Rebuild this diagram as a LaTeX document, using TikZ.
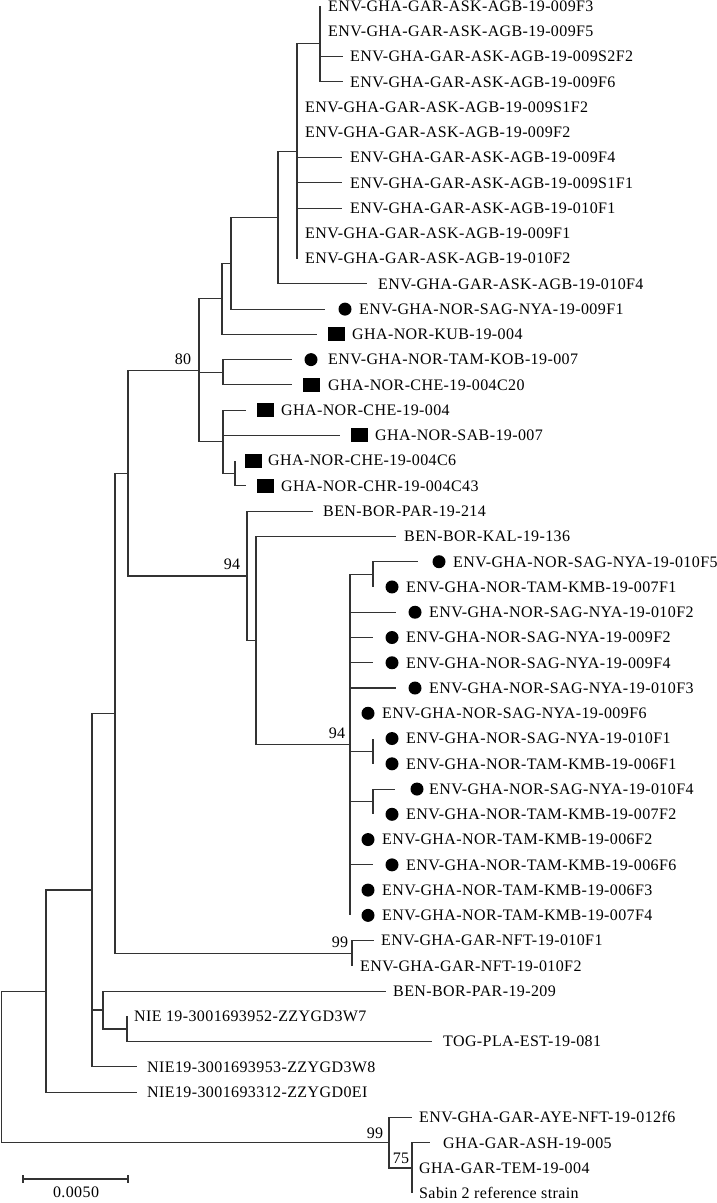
\documentclass[tikz,border=0pt]{standalone}
\usepackage{fontspec}
\setmainfont{Liberation Serif}
\newfontfamily\taxfont[LetterSpace=2.5]{Liberation Serif}
% row of a taxon -> y in px
\newcommand{\rowy}[1]{{6+25.26*(#1-1)}}
% name, row, tip x, label x, text
\newcommand{\taxon}[5]{%
  \coordinate (#1) at (#3,\rowy{#2});
  \node[taxlab] (#1l) at (#4,\rowy{#2}) {#5};}
% name, row, x of the marker
\newcommand{\envdot}[3]{\node[envmark] (#1) at (#3,\rowy{#2}) {};}
\newcommand{\humbox}[3]{\node[hummark] (#1) at (#3,\rowy{#2}) {};}
\begin{document}
\begin{tikzpicture}[x=1pt,y=-1pt,
  twig/.style={line width=1.1pt,black!80},
  taxlab/.style={anchor=west,inner sep=0pt,text height=10.6pt,text depth=0pt,font=\taxfont\fontsize{16}{18}\selectfont},
  boot/.style={inner sep=0pt,font=\taxfont\fontsize{16}{18}\selectfont},
  envmark/.style={circle,fill=black,minimum size=13pt,inner sep=0pt},
  hummark/.style={rectangle,fill=black,minimum width=17pt,minimum height=14pt,inner sep=0pt}]
\useasboundingbox (0,0) rectangle (716,1203);

% taxa
\taxon{r1}{1}{320}{328}{ENV-GHA-GAR-ASK-AGB-19-009F3}
\taxon{r2}{2}{320}{328}{ENV-GHA-GAR-ASK-AGB-19-009F5}
\taxon{r3}{3}{343}{350}{ENV-GHA-GAR-ASK-AGB-19-009S2F2}
\taxon{r4}{4}{343}{350}{ENV-GHA-GAR-ASK-AGB-19-009F6}
\taxon{r5}{5}{297}{305}{ENV-GHA-GAR-ASK-AGB-19-009S1F2}
\taxon{r6}{6}{297}{305}{ENV-GHA-GAR-ASK-AGB-19-009F2}
\taxon{r7}{7}{342}{350}{ENV-GHA-GAR-ASK-AGB-19-009F4}
\taxon{r8}{8}{342}{350}{ENV-GHA-GAR-ASK-AGB-19-009S1F1}
\taxon{r9}{9}{342}{350}{ENV-GHA-GAR-ASK-AGB-19-010F1}
\taxon{r10}{10}{297}{305}{ENV-GHA-GAR-ASK-AGB-19-009F1}
\taxon{r11}{11}{297}{305}{ENV-GHA-GAR-ASK-AGB-19-010F2}
\taxon{r12}{12}{367}{378}{ENV-GHA-GAR-ASK-AGB-19-010F4}
\taxon{r13}{13}{325}{359}{ENV-GHA-NOR-SAG-NYA-19-009F1}
\taxon{r14}{14}{317}{352}{GHA-NOR-KUB-19-004}
\taxon{r15}{15}{292}{328}{ENV-GHA-NOR-TAM-KOB-19-007}
\taxon{r16}{16}{292}{328}{GHA-NOR-CHE-19-004C20}
\taxon{r17}{17}{246}{281}{GHA-NOR-CHE-19-004}
\taxon{r18}{18}{340}{375}{GHA-NOR-SAB-19-007}
\taxon{r19}{19}{235}{268}{GHA-NOR-CHE-19-004C6}
\taxon{r20}{20}{246}{281}{GHA-NOR-CHR-19-004C43}
\taxon{r21}{21}{313}{323}{BEN-BOR-PAR-19-214}
\taxon{r22}{22}{396}{404}{BEN-BOR-KAL-19-136}
\taxon{r23}{23}{418}{453}{ENV-GHA-NOR-SAG-NYA-19-010F5}
\taxon{r24}{24}{373}{406}{ENV-GHA-NOR-TAM-KMB-19-007F1}
\taxon{r25}{25}{396}{429}{ENV-GHA-NOR-SAG-NYA-19-010F2}
\taxon{r26}{26}{373}{406}{ENV-GHA-NOR-SAG-NYA-19-009F2}
\taxon{r27}{27}{373}{406}{ENV-GHA-NOR-SAG-NYA-19-009F4}
\taxon{r28}{28}{396}{429}{ENV-GHA-NOR-SAG-NYA-19-010F3}
\taxon{r29}{29}{350}{382}{ENV-GHA-NOR-SAG-NYA-19-009F6}
\taxon{r30}{30}{373}{406}{ENV-GHA-NOR-SAG-NYA-19-010F1}
\taxon{r31}{31}{373}{406}{ENV-GHA-NOR-TAM-KMB-19-006F1}
\taxon{r32}{32}{395}{429}{ENV-GHA-NOR-SAG-NYA-19-010F4}
\taxon{r33}{33}{373}{406}{ENV-GHA-NOR-TAM-KMB-19-007F2}
\taxon{r34}{34}{350}{382}{ENV-GHA-NOR-TAM-KMB-19-006F2}
\taxon{r35}{35}{373}{406}{ENV-GHA-NOR-TAM-KMB-19-006F6}
\taxon{r36}{36}{350}{382}{ENV-GHA-NOR-TAM-KMB-19-006F3}
\taxon{r37}{37}{350}{382}{ENV-GHA-NOR-TAM-KMB-19-007F4}
\taxon{r38}{38}{374}{381}{ENV-GHA-GAR-NFT-19-010F1}
\taxon{r39}{39}{352}{360}{ENV-GHA-GAR-NFT-19-010F2}
\taxon{r40}{40}{386}{393}{BEN-BOR-PAR-19-209}
\taxon{r41}{41}{127}{134}{NIE 19-3001693952-ZZYGD3W7}
\taxon{r42}{42}{432}{443}{TOG-PLA-EST-19-081}
\taxon{r43}{43}{137}{147}{NIE19-3001693953-ZZYGD3W8}
\taxon{r44}{44}{137}{147}{NIE19-3001693312-ZZYGD0EI}
\taxon{r45}{45}{412}{419}{ENV-GHA-GAR-AYE-NFT-19-012f6}
\taxon{r46}{46}{430}{443}{GHA-GAR-ASH-19-005}
\taxon{r47}{47}{412}{419}{GHA-GAR-TEM-19-004}
\taxon{r48}{48}{412}{419}{Sabin 2 reference strain}

% markers
\envdot{d13}{13}{345}
\humbox{s14}{14}{336}
\envdot{d15}{15}{311}
\humbox{s16}{16}{311}
\humbox{s17}{17}{265}
\humbox{s18}{18}{359}
\humbox{s19}{19}{253}
\humbox{s20}{20}{265}
\envdot{d23}{23}{439}
\envdot{d24}{24}{392}
\envdot{d25}{25}{415}
\envdot{d26}{26}{392}
\envdot{d27}{27}{392}
\envdot{d28}{28}{415}
\envdot{d29}{29}{368}
\envdot{d30}{30}{392}
\envdot{d31}{31}{392}
\envdot{d32}{32}{417}
\envdot{d33}{33}{392}
\envdot{d34}{34}{368}
\envdot{d35}{35}{392}
\envdot{d36}{36}{368}
\envdot{d37}{37}{368}

% inner nodes
\coordinate (a1) at (320,43.9);
\coordinate (a) at (297,151.2);
\coordinate (b) at (278,217.5);
\coordinate (c) at (231,263.3);
\coordinate (d) at (222,298.9);
\coordinate (f) at (223,372.3);
\coordinate (h) at (235,473.3);
\coordinate (g) at (223,441.7);
\coordinate (e) at (199,370.3);
\coordinate (n1) at (373,574.4);
\coordinate (n2) at (373,751.2);
\coordinate (n3) at (373,801.7);
\coordinate (m) at (350,744.9);
\coordinate (l) at (256,640.7);
\coordinate (j) at (247,576);
\coordinate (i) at (128,473.1);
\coordinate (q) at (352,953.3);
\coordinate (k) at (115,713.2);
\coordinate (s) at (127,1029);
\coordinate (r) at (103,1010);
\coordinate (p) at (92,890);
\coordinate (t) at (46,991.1);
\coordinate (v) at (412,1168);
\coordinate (u) at (389,1142.7);
\coordinate (root) at (1.5,1066.9);

% branches
\foreach \a/\b in {a1/r1,a1/r2,a1/r3,a1/r4,
  a/a1,a/r5,a/r6,a/r7,a/r8,a/r9,a/r10,a/r11,
  b/a,b/r12,c/b,c/r13,d/c,d/r14,
  f/r15,f/r16,h/r19,h/r20,g/r17,g/r18,g/h,
  e/d,e/f,e/g,
  n1/r23,n1/r24,n2/r30,n2/r31,n3/r32,n3/r33,
  m/n1,m/r25,m/r26,m/r27,m/r28,m/r29,m/n2,m/n3,m/r34,m/r35,m/r36,m/r37,
  l/r22,l/m,j/r21,j/l,i/e,i/j,
  q/r38,q/r39,k/i,k/q,
  s/r41,s/r42,r/r40,r/s,p/k,p/r,p/r43,
  t/p,t/r44,v/r46,v/r47,v/r48,u/r45,u/v,root/t,root/u}
  \draw[twig] (\a) |- (\b);

% bootstrap values
\node[boot] (bs80) at (183,359) {80};
\node[boot] (bs94a) at (232,564) {94};
\node[boot] (bs94b) at (337,733) {94};
\node[boot] (bs99a) at (340,942) {99};
\node[boot] (bs99b) at (375,1133) {99};
\node[boot] (bs75) at (401,1158) {75};

% scale bar
\coordinate (sb0) at (23,1179);
\coordinate (sb1) at (128,1179);
\draw[twig] (sb0) -- (sb1);
\draw[twig] ([yshift=4pt]sb0) -- ([yshift=-4pt]sb0);
\draw[twig] ([yshift=4pt]sb1) -- ([yshift=-4pt]sb1);
\node[boot] (sblab) at (76,1192) {0.0050};
\end{tikzpicture}
\end{document}
